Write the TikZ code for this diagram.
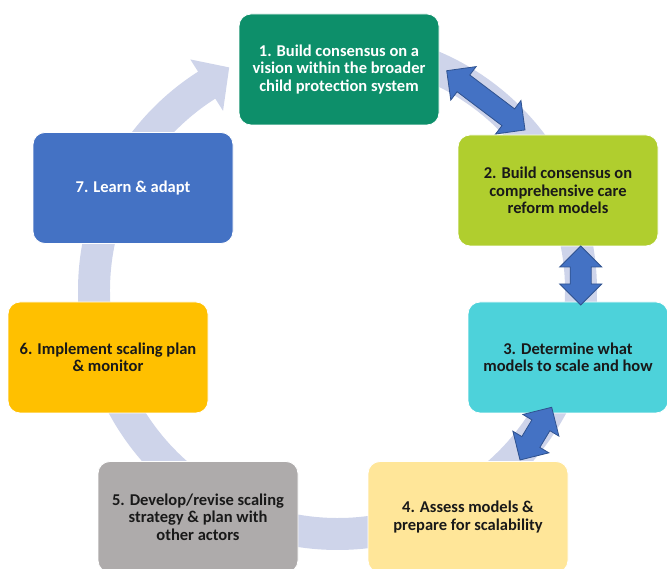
\documentclass[tikz,border=0pt]{standalone}
\usepackage{fontspec}
\setmainfont{Carlito}
\definecolor{cgreen}{RGB}{13,143,106}
\definecolor{clime}{RGB}{176,206,46}
\definecolor{ccyan}{RGB}{77,210,218}
\definecolor{cyell}{RGB}{255,230,153}
\definecolor{cgray}{RGB}{174,171,171}
\definecolor{camber}{RGB}{255,192,0}
\definecolor{cblue}{RGB}{68,114,196}
\definecolor{cdark}{RGB}{47,82,143}
\definecolor{cring}{RGB}{206,212,234}
\tikzset{
  box/.style={rounded corners=12pt, minimum width=200pt, minimum height=111pt,
    draw=white, line width=0.8pt, align=center, inner sep=0pt,
    font=\fontsize{16.5}{17.5}\selectfont\bfseries, text=black!90},
  dblarr/.style={fill=cblue, draw=cdark, line width=0.8pt, line join=miter},
  ringband/.style={fill=cring}
}
% double arrow: start tip coordinate, direction angle, total length
\newcommand\dblarrow[3]{%
  \pgfmathsetmacro\arrb{#3-21}%
  \begin{scope}[shift={(#1)}, rotate=#2]
    \filldraw[dblarr] (0,0) -- (21,21) -- (21,10.5) -- (\arrb,10.5) -- (\arrb,21)
      -- (#3,0) -- (\arrb,-21) -- (\arrb,-10.5) -- (21,-10.5) -- (21,-21) -- cycle;
  \end{scope}
}
\begin{document}
\begin{tikzpicture}[x=1pt,y=1pt]
\useasboundingbox (0,0) rectangle (667,569);
\clip (0,0) rectangle (667,569);
% background circular band with arrowhead
\begin{scope}[shift={(337.5,278.5)}]
  \fill[ringband] (90:259.5) arc[start angle=90, end angle=-237.5, radius=259.5]
    -- (-237.5:274) -- (-244.1:248) -- (-237.5:213) -- (-237.5:227.5)
    arc[start angle=-237.5, end angle=90, radius=227.5] -- cycle;
\end{scope}
% boxes
\node[box, fill=cgreen, text=white] (b1) at (339,499.5) {1. Build consensus on a\\vision within the broader\\child protection system};
\node[box, fill=clime] (b2) at (558,378.5) {2. Build consensus on\\comprehensive care\\reform models};
\node[box, fill=ccyan] (b3) at (568,211.5) {3. Determine what\\models to scale and how};
\node[box, fill=cyell] (b4) at (468,52) {4. Assess models \&\\prepare for scalability};
\node[box, fill=cgray] (b5) at (198,52) {5. Develop/revise scaling\\strategy \& plan with\\other actors};
\node[box, fill=camber] (b6) at (108,211.5) {6. Implement scaling plan\\\& monitor};
\node[box, fill=cblue, text=white] (b7) at (133,381) {7. Learn \& adapt};
% double arrows
\coordinate (a1s) at (446.7,498.3);
\coordinate (a2s) at (580.7,323);
\coordinate (a3s) at (551.7,161.7);
\dblarrow{a1s}{-37.1}{98.2}
\dblarrow{a2s}{-90}{59}
\dblarrow{a3s}{-121}{61.5}
\end{tikzpicture}
\end{document}
